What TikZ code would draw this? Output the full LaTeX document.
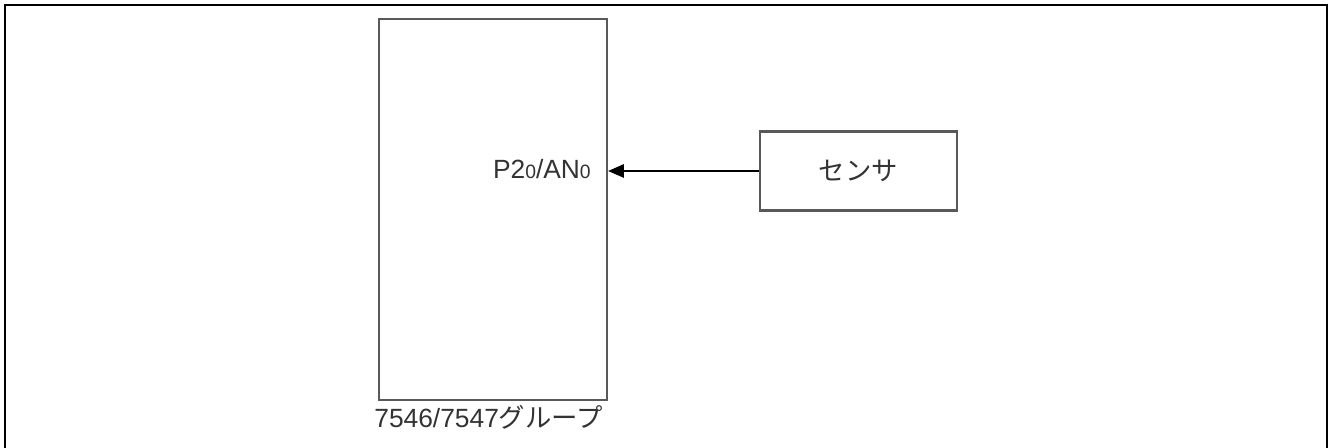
\documentclass[tikz,border=0pt]{standalone}
\usepackage{fontspec}
\setmainfont{Liberation Sans}
\newfontfamily\jp{Noto Sans CJK JP}
\usetikzlibrary{arrows.meta}
\usetikzlibrary{positioning}
\newcommand{\smallnum}[1]{{\fontsize{11}{11}\selectfont #1}}
\tikzset{
    every node/.style={
        text=black!80,
        font=\fontsize{15}{17}\selectfont},
    block/.style={
        draw=black!65,
        line width=1.2pt,
        fill=white},
    frame/.style={
        draw,
        line width=1.15pt},
    sig/.style={
        draw,
        ->,>={Triangle[length=9pt,width=7.5pt]},
        line width=1.25pt}}

\begin{document}
\begin{tikzpicture}
        \useasboundingbox (0,0) rectangle (26.56,8.96);
        \draw[frame] (0.1,0) |- (26.54,8.86) -- (26.54,0);

        \node[block,minimum width=4.56cm,minimum height=7.62cm] (mcu) at (9.86,4.77) {};
        \node[block,minimum width=3.94cm,minimum height=1.58cm] (sensor) at (17.17,5.54) {\jp センサ};

        \node[anchor=east,inner sep=0pt] (pin) at ([xshift=-0.34cm,yshift=0.04cm]mcu.east |- sensor) {P2\smallnum{0}/AN\smallnum{0}};
        \node[anchor=west,inner sep=0pt] (group) at (7.48,0.62) {7546/7547{\jp グループ}};

        \draw[sig] (sensor) -- (sensor -| mcu.east);
    \end{tikzpicture}
\end{document}
